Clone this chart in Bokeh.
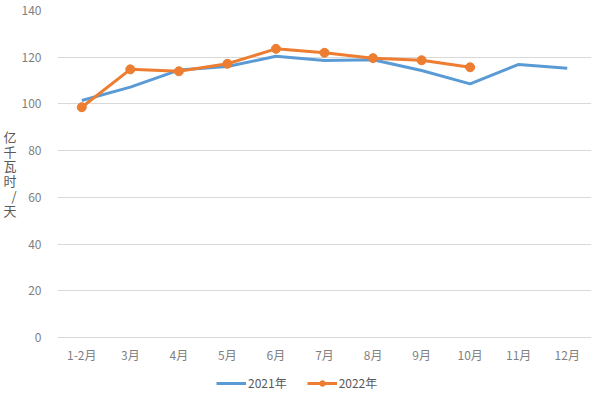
from bokeh.plotting import figure
from bokeh.models import FactorRange, Range1d, Legend, LegendItem, FixedTicker
from bokeh.core.properties import value
from bokeh.embed import file_html
from bokeh.resources import INLINE

months = ["1-2月", "3月", "4月", "5月", "6月", "7月", "8月", "9月", "10月", "11月", "12月"]
y2021 = [101.5, 107.2, 114.5, 116.0, 120.4, 118.6, 118.9, 114.3, 108.6, 116.9, 115.3]
months2022 = ["1-2月", "3月", "4月", "5月", "6月", "7月", "8月", "9月", "10月"]
y2022 = [98.6, 114.8, 114.0, 117.2, 123.6, 121.9, 119.6, 118.7, 115.7]
y_ticks = [0, 20, 40, 60, 80, 100, 120, 140]
y_title = "亿\n千\n瓦\n时\n/\n天"

FONT = "Noto Sans CJK SC"
BLUE = "#5B9BD5"
ORANGE = "#ED7D31"
Y_BOTTOM = -24.8      # extra room under the 0 line for the category labels and legend
X_LABEL_Y = -7.3      # vertical placement of the category labels

p = figure(x_range=FactorRange(*months, range_padding=0), y_range=Range1d(Y_BOTTOM, 140),
           frame_width=534, frame_height=385, output_backend="svg", toolbar_location=None,
           min_border_top=10, min_border_left=56, min_border_right=8, min_border_bottom=0)
p.outline_line_color = None
p.background_fill_color = "white"

r1 = p.line(months, y2021, line_color=BLUE, line_width=3)
r2 = p.line(months2022, y2022, line_color=ORANGE, line_width=3)
r3 = p.scatter(months2022, y2022, size=9, fill_color=ORANGE, line_color=ORANGE)

# category labels under the zero line
p.text(x=months, y=[X_LABEL_Y] * len(months), text=months,
       text_font=value(FONT), text_font_size="12px", text_color="#7F7F7F",
       text_align="center", text_baseline="middle")

p.xaxis.visible = False
p.xgrid.grid_line_color = None
p.ygrid.grid_line_color = "#D9D9D9"
p.ygrid.grid_line_width = 1
p.yaxis.ticker = FixedTicker(ticks=y_ticks)
p.ygrid.ticker = FixedTicker(ticks=y_ticks)

ax = p.yaxis[0]
ax.axis_line_color = None
ax.major_tick_line_color = None
ax.minor_tick_line_color = None
ax.major_label_text_font = FONT
ax.major_label_text_font_size = "12px"
ax.major_label_text_color = "#7F7F7F"
ax.major_label_standoff = 10

# blank trailing lines lift the stacked title up to the plot's vertical middle
ax.axis_label = y_title + "\n \n \n \n "
ax.axis_label_orientation = "horizontal"
ax.axis_label_text_font = FONT
ax.axis_label_text_font_size = "13px"
ax.axis_label_text_font_style = "normal"
ax.axis_label_text_color = "#595959"
ax.axis_label_text_line_height = 0.78
ax.axis_label_standoff = 2

legend = Legend(items=[LegendItem(label="2021年", renderers=[r1]),
                       LegendItem(label="2022年", renderers=[r2, r3])],
                orientation="horizontal", location=(159, 4),
                label_text_font=FONT, label_text_font_size="12px", label_text_color="#595959",
                border_line_color=None, background_fill_alpha=0, glyph_width=30, glyph_height=14,
                label_height=14, spacing=20, label_standoff=2, padding=0, margin=0)
p.add_layout(legend)

open("out.html", "w").write(file_html(p, INLINE))
